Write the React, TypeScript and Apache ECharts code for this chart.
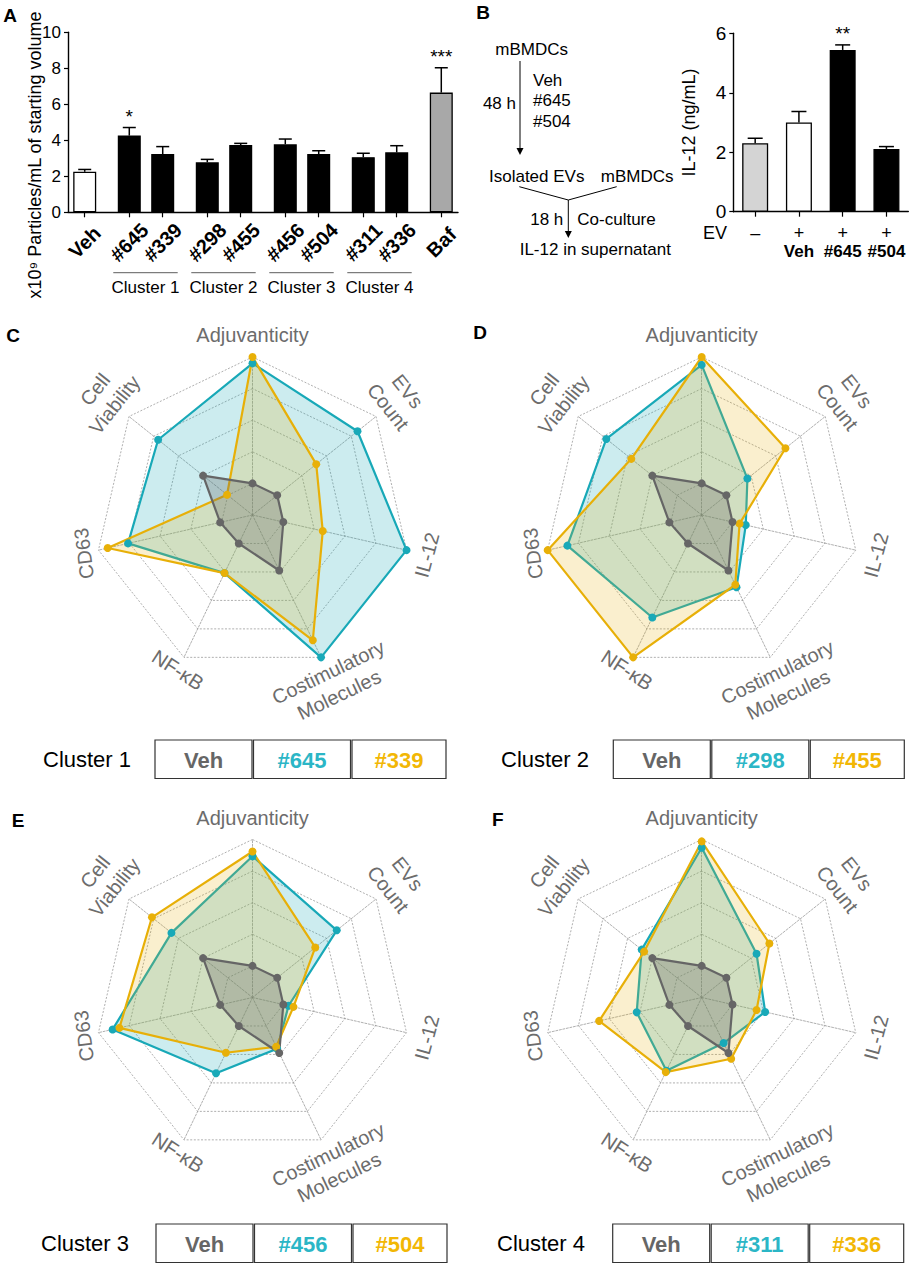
import React, { useEffect, useRef } from 'react';
import * as echarts from 'echarts';

const FONT = "'Liberation Sans', Arial, Helvetica, sans-serif";

// ---------- Panel A data ----------
const A_LABELS = ['Veh', '#645', '#339', '#298', '#455', '#456', '#504', '#311', '#336', 'Baf'];
const A_VALUES = [2.25, 4.26, 3.24, 2.78, 3.74, 3.78, 3.24, 3.06, 3.33, 6.65];
const A_ERRORS = [0.13, 0.45, 0.41, 0.16, 0.09, 0.29, 0.18, 0.22, 0.37, 1.38];
const A_STARS = ['', '*', '', '', '', '', '', '', '', '***'];
const A_SLOTS = [1, 5, 8, 12, 15, 19, 22, 26, 29, 33];
const A_SLOT_COUNT = 35;
const A_CLUSTERS = ['Cluster 1', 'Cluster 2', 'Cluster 3', 'Cluster 4'];
const A_CLUSTER_MEMBERS = [[1, 2], [3, 4], [5, 6], [7, 8]];
const A_Y_NAME = 'x10⁹ Particles/mL of starting volume';

// ---------- Panel B data ----------
const B_EV = ['–', '+', '+', '+'];
const B_NAMES = ['', 'Veh', '#645', '#504'];
const B_VALUES = [2.3, 3.0, 5.44, 2.11];
const B_ERRORS = [0.17, 0.37, 0.17, 0.08];
const B_STARS = ['', '', '**', ''];

// ---------- Radar data (counter-clockwise from top) ----------
const RADAR_AXES = ['Adjuvanticity', 'Cell Viability', 'CD63', 'NF-κB', 'Costimulatory Molecules', 'IL-12', 'EVs Count'];
const VEH = [1.0, 2.0, 1.05, 1.0, 1.95, 1.0, 1.0];
const C_645 = [4.8, 3.82, 4.04, 2.04, 5.0, 5.0, 4.25];
const C_339 = [5.0, 1.03, 4.7, 2.04, 4.4, 2.28, 2.58];
const D_298 = [4.75, 3.86, 4.36, 3.6, 2.54, 1.43, 1.85];
const D_455 = [5.0, 2.85, 5.0, 5.0, 2.45, 1.23, 3.39];
const E_456 = [4.47, 3.28, 4.54, 2.66, 1.8, 1.17, 3.41];
const E_504 = [4.62, 4.07, 4.32, 1.94, 1.73, 1.33, 2.54];
const F_311 = [4.74, 2.43, 2.11, 2.57, 1.6, 2.06, 2.22];
const F_336 = [4.94, 2.33, 3.33, 2.62, 2.15, 1.78, 2.74];
const RADAR_MAX = 5;

const PANELS = [
  { letter: 'C', cluster: 'Cluster 1', names: ['#645', '#339'], a: C_645, b: C_339 },
  { letter: 'D', cluster: 'Cluster 2', names: ['#298', '#455'], a: D_298, b: D_455 },
  { letter: 'E', cluster: 'Cluster 3', names: ['#456', '#504'], a: E_456, b: E_504 },
  { letter: 'F', cluster: 'Cluster 4', names: ['#311', '#336'], a: F_311, b: F_336 },
];

// ---------- styles / layout ----------
const TEAL = '#19a9b8';
const YELLOW = '#e8b008';
const GRAY = '#666666';
const LEG_TEAL = '#2bb6c6';
const LEG_YELLOW = '#f2b705';
const LABEL_GRAY = '#6c6c6c';
const A_BAR_FILLS = ['#ffffff', '#000', '#000', '#000', '#000', '#000', '#000', '#000', '#000', '#a8a8a8'];
const B_BAR_FILLS = ['#d4d4d4', '#ffffff', '#000', '#000'];

const A_GRID = { left: 68, top: 32.3, width: 390, height: 180 };
const B_GRID = { left: 733.3, top: 33.3, width: 175, height: 178.4 };
const RADAR_R = 158;
const RADAR_CENTERS = [[252.5, 515], [701.7, 515], [252.5, 997.5], [701.7, 997.5]];
const LEGEND_POS = [
  { tx: 43, bx: 155, y: 740 },
  { tx: 501, bx: 613.3, y: 740 },
  { tx: 41, bx: 156, y: 1224 },
  { tx: 497, bx: 612.7, y: 1224 },
];
const LEGEND_W = [97, 97, 94];
const LETTER_POS = [[10, 15], [483, 12], [13, 335], [480, 332], [18, 820], [497.7, 819]];

// label geometry by axis (clockwise angle from top, extra radius, rotation deg)
const AXIS_LABEL_GEOM: Record<string, { ang: number; off: number; rot: number; text: string }> = {
  'Adjuvanticity': { ang: 0, off: 22, rot: 0, text: 'Adjuvanticity' },
  'EVs Count': { ang: 51.43, off: 28, rot: -51.43, text: 'EVs\nCount' },
  'IL-12': { ang: 102.86, off: 21, rot: 75, text: 'IL-12' },
  'Costimulatory Molecules': { ang: 154.29, off: 29, rot: 25.7, text: 'Costimulatory\nMolecules' },
  'NF-κB': { ang: 205.71, off: 14, rot: -33, text: 'NF-κB' },
  'CD63': { ang: 257.14, off: 15, rot: 97, text: 'CD63' },
  'Cell Viability': { ang: 308.57, off: 31, rot: 51.43, text: 'Cell\nViability' },
};

const aPx = (slot: number) => A_GRID.left + (slot + 0.5) * A_GRID.width / A_SLOT_COUNT;

function txt(x: number, y: number, text: string, o: any = {}) {
  return {
    type: 'text',
    x,
    y,
    rotation: o.rotation || 0,
    silent: true,
    style: {
      text,
      fill: o.color || '#000',
      fontSize: o.size || 17,
      fontWeight: o.weight || 'normal',
      fontFamily: FONT,
      align: o.align || 'center',
      textAlign: o.align || 'center',
      verticalAlign: o.valign || 'middle',
      textVerticalAlign: o.valign || 'middle',
      lineHeight: o.lineHeight,
    },
  };
}

function errorRenderer(stars: string[], capHalf: number) {
  return (params: any, api: any) => {
    const x = api.value(0);
    const v = api.value(1);
    const e = api.value(2);
    const p0 = api.coord([x, v]);
    const p1 = api.coord([x, v + e]);
    const children: any[] = [
      { type: 'line', shape: { x1: p0[0], y1: p0[1], x2: p1[0], y2: p1[1] }, style: { stroke: '#000', lineWidth: 1.5 } },
      { type: 'line', shape: { x1: p1[0] - capHalf, y1: p1[1], x2: p1[0] + capHalf, y2: p1[1] }, style: { stroke: '#000', lineWidth: 1.5 } },
    ];
    const s = stars[params.dataIndex];
    if (s) {
      children.push({
        type: 'text',
        style: { text: s, x: p1[0], y: p1[1] - 2, align: 'center', verticalAlign: 'bottom', fontSize: 19, fontFamily: FONT, fill: '#000' },
      });
    }
    return { type: 'group', children };
  };
}

function buildOption() {
  // ----- Panel A -----
  const aCats = Array.from({ length: A_SLOT_COUNT }, (_, i) => 's' + i);
  const aBarData = aCats.map((_, i) => {
    const k = A_SLOTS.indexOf(i);
    if (k < 0) return '-';
    return { value: A_VALUES[k], itemStyle: { color: A_BAR_FILLS[k], borderColor: '#000', borderWidth: 1.3 } };
  });
  const aErrData = A_VALUES.map((v, k) => [A_SLOTS[k], v, A_ERRORS[k]]);

  // ----- Panel B -----
  const bBarData = B_VALUES.map((v, i) => ({ value: v, itemStyle: { color: B_BAR_FILLS[i], borderColor: '#000', borderWidth: 1.3 } }));
  const bErrData = B_VALUES.map((v, i) => [i, v, B_ERRORS[i]]);

  const graphic: any[] = [];
  // panel letters
  ['A', 'B', 'C', 'D', 'E', 'F'].forEach((l, i) => {
    graphic.push(txt(LETTER_POS[i][0], LETTER_POS[i][1], l, { size: 19, weight: 'bold' }));
  });
  // A y name
  graphic.push(txt(35, 155, A_Y_NAME, { size: 18, rotation: Math.PI / 2 }));
  // A cluster brackets
  A_CLUSTERS.forEach((c, i) => {
    const [k1, k2] = A_CLUSTER_MEMBERS[i];
    const x1 = aPx(A_SLOTS[k1]) - 16;
    const x2 = aPx(A_SLOTS[k2]) + 15;
    graphic.push({ type: 'line', silent: true, shape: { x1, y1: 272.7, x2, y2: 272.7 }, style: { stroke: '#333', lineWidth: 0.8 } });
    graphic.push(txt((x1 + x2) / 2, 287, c, { size: 17 }));
  });

  // B flow diagram
  const arrowHead = (x: number, y: number) => ({
    type: 'polygon', silent: true,
    shape: { points: [[x - 3.5, y - 7], [x + 3.5, y - 7], [x, y]] },
    style: { fill: '#000' },
  });
  graphic.push(txt(531.7, 49.3, 'mBMDCs'));
  graphic.push({ type: 'line', silent: true, shape: { x1: 520, y1: 61, x2: 520, y2: 150 }, style: { stroke: '#000', lineWidth: 1 } });
  graphic.push(arrowHead(520, 155));
  graphic.push(txt(533, 80.7, 'Veh', { align: 'left' }));
  graphic.push(txt(533, 100.7, '#645', { align: 'left' }));
  graphic.push(txt(533, 121.3, '#504', { align: 'left' }));
  graphic.push(txt(516, 103, '48 h', { align: 'right' }));
  graphic.push(txt(536.7, 176, 'Isolated EVs'));
  graphic.push(txt(637.2, 176, 'mBMDCs'));
  graphic.push({ type: 'polyline', silent: true, shape: { points: [[519.3, 186.7], [568.3, 200], [616.7, 186.7]] }, style: { stroke: '#000', lineWidth: 1, fill: 'none' } });
  graphic.push({ type: 'line', silent: true, shape: { x1: 568.3, y1: 200, x2: 568.3, y2: 233 }, style: { stroke: '#000', lineWidth: 1 } });
  graphic.push(arrowHead(568.3, 238));
  graphic.push(txt(563.3, 219, '18 h', { align: 'right' }));
  graphic.push(txt(577.3, 219, 'Co-culture', { align: 'left' }));
  graphic.push(txt(595.3, 249.3, 'IL-12 in supernatant'));
  graphic.push(txt(715, 232.7, 'EV', { size: 18 }));

  // radar labels and legends
  PANELS.forEach((p, i) => {
    const [cx, cy] = RADAR_CENTERS[i];
    RADAR_AXES.forEach((name) => {
      const g = AXIS_LABEL_GEOM[name];
      const r = RADAR_R + g.off;
      const a = g.ang * Math.PI / 180;
      graphic.push(txt(cx + r * Math.sin(a), cy - r * Math.cos(a), g.text, {
        size: 20, color: LABEL_GRAY, rotation: g.rot * Math.PI / 180, lineHeight: 25,
      }));
    });
    const L = LEGEND_POS[i];
    const h = 38.5;
    graphic.push(txt(L.tx, L.y + h / 2, p.cluster, { size: 22, align: 'left' }));
    const labels = ['Veh', p.names[0], p.names[1]];
    const colors = [GRAY, LEG_TEAL, LEG_YELLOW];
    let x = L.bx;
    labels.forEach((lab, j) => {
      graphic.push({ type: 'rect', silent: true, shape: { x, y: L.y, width: LEGEND_W[j], height: h }, style: { fill: '#fff', stroke: '#333', lineWidth: 1.2 } });
      graphic.push(txt(x + LEGEND_W[j] / 2, L.y + h / 2 + 1, lab, { size: 22, weight: 'bold', color: colors[j] }));
      x += LEGEND_W[j] + 1.5;
    });
  });

  const gridLine = { color: '#8c8c8c', type: [2, 1.6], width: 0.7 };

  const radar = RADAR_CENTERS.map((c) => ({
    center: c,
    radius: RADAR_R,
    startAngle: 90,
    splitNumber: 5,
    shape: 'polygon',
    indicator: RADAR_AXES.map((n) => ({ name: n, min: 0, max: RADAR_MAX })),
    axisName: { show: false },
    splitLine: { lineStyle: gridLine },
    splitArea: { show: false },
    axisLine: { lineStyle: gridLine },
    axisTick: { show: false },
    axisLabel: { show: false },
  }));

  const radarSeries = PANELS.map((p, i) => ({
    type: 'radar',
    radarIndex: i,
    symbol: 'circle',
    symbolSize: 8,
    silent: true,
    data: [
      { value: p.a, name: p.names[0], lineStyle: { color: TEAL, width: 2.2 }, itemStyle: { color: TEAL }, areaStyle: { color: TEAL, opacity: 0.22 } },
      { value: p.b, name: p.names[1], lineStyle: { color: YELLOW, width: 2.2 }, itemStyle: { color: YELLOW }, areaStyle: { color: YELLOW, opacity: 0.2 } },
      { value: VEH, name: 'Veh', lineStyle: { color: GRAY, width: 2.2 }, itemStyle: { color: GRAY }, areaStyle: { color: GRAY, opacity: 0.3 } },
    ],
  }));

  const axisBlack = { lineStyle: { color: '#000', width: 1.4 } };

  return {
    animation: false,
    backgroundColor: '#fff',
    textStyle: { fontFamily: FONT },
    grid: [
      { ...A_GRID, containLabel: false },
      { ...B_GRID, containLabel: false },
    ],
    xAxis: [
      {
        type: 'category', gridIndex: 0, data: aCats,
        axisLine: axisBlack,
        axisTick: { show: true, alignWithLabel: true, length: 5, interval: (i: number) => A_SLOTS.indexOf(i) >= 0, lineStyle: { color: '#000', width: 1.2 } },
        axisLabel: {
          interval: 0, rotate: 45, align: 'center', verticalAlign: 'middle', margin: 30,
          fontSize: 20, fontWeight: 'bold', color: '#000', fontFamily: FONT,
          formatter: (_v: string, i: number) => { const k = A_SLOTS.indexOf(i); return k >= 0 ? A_LABELS[k] : ''; },
        },
        splitLine: { show: false },
      },
      {
        type: 'category', gridIndex: 1, data: B_EV.map((_, i) => 'b' + i),
        axisLine: axisBlack,
        axisTick: { show: true, alignWithLabel: true, length: 5, lineStyle: { color: '#000', width: 1.2 } },
        axisLabel: {
          interval: 0, margin: 11.5, fontFamily: FONT,
          formatter: (_v: string, i: number) => `{e|${B_EV[i]}}\n{b|${B_NAMES[i] || ' '}}`,
          rich: {
            e: { fontSize: 18, color: '#000', lineHeight: 19, fontFamily: FONT },
            b: { fontSize: 17, fontWeight: 'bold', color: '#000', lineHeight: 19, fontFamily: FONT },
          },
        },
      },
    ],
    yAxis: [
      {
        type: 'value', gridIndex: 0, min: 0, max: 10, interval: 2,
        axisLine: { show: true, ...axisBlack },
        axisTick: { show: true, length: 4, lineStyle: { color: '#000', width: 1.2 } },
        axisLabel: { fontSize: 17, color: '#000', margin: 7, fontFamily: FONT },
        splitLine: { show: false },
      },
      {
        type: 'value', gridIndex: 1, min: 0, max: 6, interval: 2,
        name: 'IL-12 (ng/mL)', nameLocation: 'middle', nameGap: 35,
        nameTextStyle: { fontSize: 18, color: '#000', fontFamily: FONT },
        axisLine: { show: true, ...axisBlack },
        axisTick: { show: true, length: 4, lineStyle: { color: '#000', width: 1.2 } },
        axisLabel: { fontSize: 19, color: '#000', margin: 7, fontFamily: FONT },
        splitLine: { show: false },
      },
    ],
    radar,
    series: [
      { type: 'bar', xAxisIndex: 0, yAxisIndex: 0, barWidth: 23, data: aBarData, silent: true },
      { type: 'custom', xAxisIndex: 0, yAxisIndex: 0, data: aErrData, renderItem: errorRenderer(A_STARS, 6.5), z: 5, silent: true },
      { type: 'bar', xAxisIndex: 1, yAxisIndex: 1, barWidth: 26, data: bBarData, silent: true },
      { type: 'custom', xAxisIndex: 1, yAxisIndex: 1, data: bErrData, renderItem: errorRenderer(B_STARS, 7.5), z: 5, silent: true },
      ...radarSeries,
    ],
    graphic,
  };
}

export default function App() {
  const ref = useRef<HTMLDivElement>(null);
  useEffect(() => {
    if (!ref.current) return;
    const chart = echarts.init(ref.current, undefined, { renderer: 'svg', width: 913, height: 1265 });
    chart.setOption(buildOption() as any);
    return () => chart.dispose();
  }, []);
  return (
    <div
      ref={ref}
      style={{ position: 'absolute', left: 0, top: 0, width: 913, height: 1265, background: '#fff' }}
    />
  );
}
